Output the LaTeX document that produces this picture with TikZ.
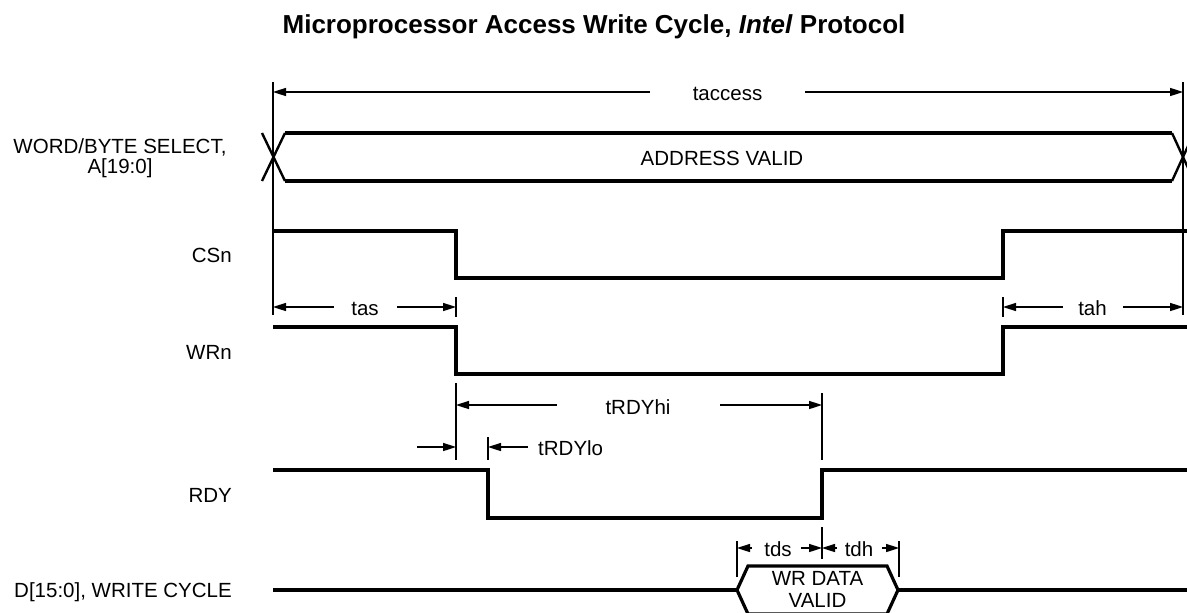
\documentclass[tikz,border=0pt]{standalone}
\usepackage{fontspec}
\setmainfont{Liberation Sans}
\usetikzlibrary{arrows.meta}
\begin{document}
\begin{tikzpicture}[x=1pt,y=-1pt,
  sig/.style={line width=3.5pt, line join=miter},
  bus/.style={line width=3.2pt, line join=miter},
  xline/.style={line width=2.4pt},
  vline/.style={line width=1.8pt},
  tickline/.style={line width=1.3pt},
  dimline/.style={line width=1.6pt},
  arr/.style={dimline,-{Triangle[length=13pt,width=8pt]}},
  lbl/.style={font=\fontsize{20.5}{23}\selectfont, inner sep=0pt, anchor=base},
  ttl/.style={font=\fontsize{26}{30}\selectfont\bfseries, inner sep=0pt, anchor=base},
]
\useasboundingbox (0,0) rectangle (1187,613);

% title
\node[ttl] (title) at (594,33) {Microprocessor Access Write Cycle, \textit{Intel} Protocol};

% signal names
\node[lbl] (lA1) at (120,153) {WORD/BYTE SELECT,};
\node[lbl] (lA2) at (120,173) {A[19:0]};
\node[lbl,anchor=base east] (lCS) at (232,262) {CSn};
\node[lbl,anchor=base east] (lWR) at (232,359) {WRn};
\node[lbl,anchor=base east] (lRDY) at (232,502) {RDY};
\node[lbl,anchor=base east] (lD) at (232,597) {D[15:0], WRITE CYCLE};

% outer extension lines
\coordinate (a0) at (273,82);  \coordinate (a1) at (273,315);
\coordinate (b0) at (1183,82); \coordinate (b1) at (1183,315);
\draw[vline] (a0) -- (a1);
\draw[vline] (b0) -- (b1);

% taccess
\node[lbl] (tacc) at (727.5,100) {taccess};
\draw[arr] (650,92) -- (273,92);
\draw[arr] (805,92) -- (1183,92);

% address bus
\draw[bus] (285,133) -- (1172,133);
\draw[bus] (285,181) -- (1172,181);
\draw[xline] (285,133) -- (262,181);
\draw[xline] (285,181) -- (262,133);
\draw[xline] (1172,133) -- (1194,181);
\draw[xline] (1172,181) -- (1194,133);
\node[lbl] (addr) at (722,165) {ADDRESS VALID};

% CSn
\draw[sig] (273,231) -- (456,231) -- (456,278) -- (1003,278) -- (1003,231) -- (1195,231);

% tas / tah
\draw[tickline] (456,297) -- (456,317);
\draw[tickline] (1003,297) -- (1003,317);
\node[lbl] (tas) at (365,315) {tas};
\draw[arr] (334,307) -- (273,307);
\draw[arr] (397,307) -- (456,307);
\node[lbl] (tah) at (1092.5,315) {tah};
\draw[arr] (1063,307) -- (1003,307);
\draw[arr] (1123,307) -- (1183,307);

% WRn
\draw[sig] (273,327) -- (456,327) -- (456,374) -- (1003,374) -- (1003,327) -- (1195,327);

% tRDYhi
\draw[tickline] (456,383) -- (456,460);
\draw[tickline] (822,393) -- (822,460);
\node[lbl] (trdyhi) at (638,414) {tRDYhi};
\draw[arr] (557,405) -- (456,405);
\draw[arr] (720,405) -- (822,405);

% tRDYlo
\draw[tickline] (488,437) -- (488,460);
\draw[arr] (417,447) -- (456,447);
\draw[arr] (528,447) -- (488,447);
\node[lbl,anchor=base west] (trdylo) at (538,455) {tRDYlo};

% RDY
\draw[sig] (273,470) -- (488,470) -- (488,518) -- (822,518) -- (822,470) -- (1195,470);

% tds / tdh
\draw[tickline] (737,541) -- (737,577);
\draw[tickline] (822,527) -- (822,559);
\draw[tickline] (899,541) -- (899,577);
\node[lbl] (tds) at (778,556) {tds};
\node[lbl] (tdh) at (859,556) {tdh};
\draw[arr] (752,548) -- (737,548);
\draw[arr] (801,548) -- (822,548);
\draw[arr] (837,548) -- (822,548);
\draw[arr] (882,548) -- (899,548);

% data bus
\draw[sig] (273,590) -- (737,590);
\draw[bus] (737,590) -- (748,566) -- (887,566) -- (898,590) -- (887,614) -- (748,614) -- cycle;
\draw[sig] (898,590) -- (1195,590);
\node[lbl] (wrd1) at (817.5,585) {WR DATA};
\node[lbl] (wrd2) at (817.5,607) {VALID};
\end{tikzpicture}
\end{document}
